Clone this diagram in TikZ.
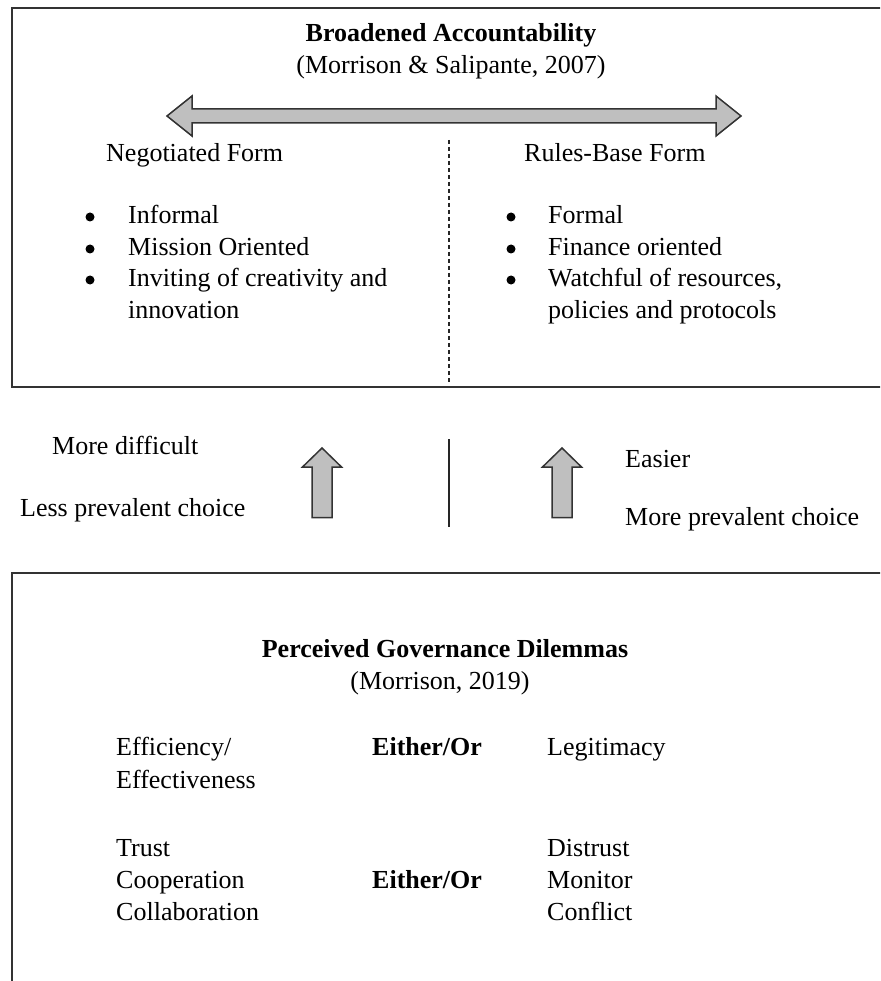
\documentclass[tikz,border=0pt]{standalone}
\usepackage{fontspec}
\setmainfont{Liberation Serif}
\begin{document}
\begin{tikzpicture}[x=1pt,y=-1pt,
  txt/.style={anchor=base west,inner sep=0pt,font=\fontsize{26}{31.5}\selectfont},
  ctxt/.style={anchor=base,inner sep=0pt,font=\fontsize{26}{31.5}\selectfont},
  dot/.style={circle,fill=black,inner sep=0pt,minimum size=9pt},
  frame/.style={draw=black!80,line width=2pt},
  fatarrow/.style={draw=black!80,line width=1.5pt,fill=black!25,line join=miter},
  divider/.style={draw=black!85,line width=1.5pt}]
\useasboundingbox (0,0) rectangle (880,981);
\clip (0,0) rectangle (880,981);

% upper panel
\draw[frame] (12,8) rectangle (905,387);
\node[ctxt,font=\fontsize{26}{31.5}\selectfont\bfseries] (t1) at (451,42) {Broadened Accountability};
\node[ctxt] (t1c) at (451,74) {(Morrison \& Salipante, 2007)};
\draw[fatarrow] (167,116) -- (192,96) -- (192,109) -- (716,109) -- (716,96)
  -- (741,116) -- (716,136) -- (716,123) -- (192,123) -- (192,136) -- cycle;
\draw[divider,line width=1.3pt,dash pattern=on 4pt off 3pt] (449,140) -- (449,384);

\node[txt] (neg) at (106,162) {Negotiated Form};
\node[txt] (rul) at (524,162) {Rules-Base Form};

\foreach \y/\name in {217/a,249/b,280/c}{
  \node[dot] (bl\name) at (90,\y) {};
  \node[dot] (br\name) at (511,\y) {};
}
\node[txt] (l1) at (128,224) {Informal};
\node[txt] (l2) at (128,256) {Mission Oriented};
\node[txt] (l3) at (128,287) {Inviting of creativity and};
\node[txt] (l4) at (128,318) {innovation};
\node[txt] (r1) at (548,224) {Formal};
\node[txt] (r2) at (548,256) {Finance oriented};
\node[txt] (r3) at (548,287) {Watchful of resources,};
\node[txt] (r4) at (548,318) {policies and protocols};

% middle band
\node[txt] (md) at (52,454) {More difficult};
\node[txt] (lp) at (20,516) {Less prevalent choice};
\draw[fatarrow] (322,448) -- (341.5,467) -- (332,467) -- (332,517.5)
  -- (312,517.5) -- (312,467) -- (302.5,467) -- cycle;
\draw[divider] (449,439) -- (449,527);
\draw[fatarrow] (562,448) -- (581.5,467) -- (572,467) -- (572,517.5)
  -- (552,517.5) -- (552,467) -- (542.5,467) -- cycle;
\node[txt] (ez) at (625,467) {Easier};
\node[txt] (mp) at (625,525) {More prevalent choice};

% lower panel
\draw[frame] (12,573) rectangle (905,1000);
\node[ctxt,font=\fontsize{26}{31.5}\selectfont\bfseries] (t2) at (445,657) {Perceived Governance Dilemmas};
\node[ctxt] (t2c) at (440,689) {(Morrison, 2019)};

\node[txt] (e1) at (116,755) {Efficiency/};
\node[txt] (e2) at (116,788) {Effectiveness};
\node[txt,font=\fontsize{26}{31.5}\selectfont\bfseries] (eo1) at (372,755) {Either/Or};
\node[txt] (lg) at (547,755) {Legitimacy};

\node[txt] (c1) at (116,856) {Trust};
\node[txt] (c2) at (116,888) {Cooperation};
\node[txt] (c3) at (116,920) {Collaboration};
\node[txt,font=\fontsize{26}{31.5}\selectfont\bfseries] (eo2) at (372,888) {Either/Or};
\node[txt] (d1) at (547,856) {Distrust};
\node[txt] (d2) at (547,888) {Monitor};
\node[txt] (d3) at (547,920) {Conflict};
\end{tikzpicture}
\end{document}
